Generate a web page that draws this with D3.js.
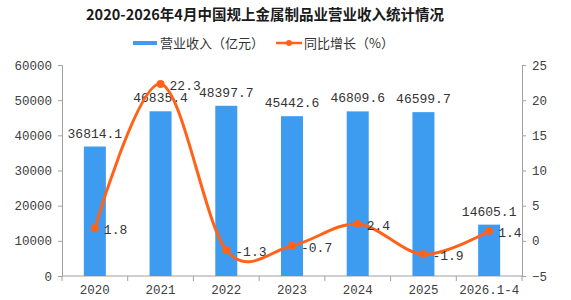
<!DOCTYPE html>
<html><head><meta charset="utf-8">
<script src="https://cdn.jsdelivr.net/npm/d3@7"></script>
<style>body{margin:0;background:#fff}svg{display:block}</style>
</head><body>
<svg id="c" width="571" height="300"></svg>
<script>
const categories = ["2020","2021","2022","2023","2024","2025","2026.1-4"];
const revenue = [36814.1, 46835.4, 48397.7, 45442.6, 46809.6, 46599.7, 14605.1];
const growth = [1.8, 22.3, -1.3, -0.7, 2.4, -1.9, 1.4];
const leftTicks = [0,10000,20000,30000,40000,50000,60000];
const rightTicks = [-5,0,5,10,15,20,25];
const title = "2020-2026年4月中国规上金属制品业营业收入统计情况";
const legendNames = ["营业收入（亿元）","同比增长（%）"];

const svg = d3.select("#c");
const L = 62, R = 522, T = 65, B = 276;
const mono = "'Liberation Mono', monospace";
const cjk = "'Noto Sans CJK SC', sans-serif";
const blue = "#3d9bf0", orange = "#ff6218";

const x = d3.scaleBand().domain(categories).range([L, R]).paddingInner(0).paddingOuter(0);
const yL = d3.scaleLinear().domain([0, 60000]).range([B, T]);
const yR = d3.scaleLinear().domain([-5, 25]).range([B, T]);

// title
svg.append("text").attr("x", 265).attr("y", 20).attr("text-anchor", "middle")
  .attr("font-family", cjk).attr("font-weight", "bold").attr("font-size", 14.5)
  .attr("fill", "#1a1a1a").text(title);

// legend
svg.append("rect").attr("x", 133).attr("y", 41).attr("width", 24).attr("height", 4).attr("fill", blue);
svg.append("text").attr("x", 160).attr("y", 48).attr("font-family", cjk).attr("font-size", 13)
  .attr("fill", "#333").text(legendNames[0]);
svg.append("line").attr("x1", 276).attr("x2", 302).attr("y1", 43).attr("y2", 43)
  .attr("stroke", orange).attr("stroke-width", 2.5);
svg.append("circle").attr("cx", 289).attr("cy", 43).attr("r", 3).attr("fill", orange);
svg.append("text").attr("x", 304).attr("y", 48).attr("font-family", cjk).attr("font-size", 13)
  .attr("fill", "#333").text(legendNames[1]);

// axes
const axL = d3.axisLeft(yL).tickValues(leftTicks).tickSize(4).tickPadding(6).tickFormat(d3.format("d"));
const axR = d3.axisRight(yR).tickValues(rightTicks).tickSize(4).tickPadding(6);
const axB = d3.axisBottom(x).tickSize(0).tickPadding(9);

function style(g) {
  g.selectAll("path,line").attr("stroke", "#a0a0a0");
  g.selectAll("text").attr("font-family", mono).attr("font-size", 12.5).attr("fill", "#404040");
}
svg.append("g").attr("transform", `translate(${L},0)`).call(axL).call(style);
svg.append("g").attr("transform", `translate(${R},0)`).call(axR).call(style);
const gb = svg.append("g").attr("transform", `translate(0,${B})`).call(axB).call(style);
gb.select("path").attr("d", `M${L},0H${R}`);
// boundary ticks
const bounds = categories.map(c => x(c)).concat([R]);
gb.selectAll(".btick").data(bounds).enter().append("line")
  .attr("x1", d => d).attr("x2", d => d).attr("y1", 0).attr("y2", 5).attr("stroke", "#a0a0a0");

// bars
const bw = 22;
svg.append("g").selectAll("rect").data(revenue).enter().append("rect")
  .attr("x", (d, i) => x(categories[i]) + x.bandwidth() / 2 - bw / 2)
  .attr("y", d => yL(d)).attr("width", bw).attr("height", d => B - yL(d))
  .attr("fill", blue);

// bar labels
svg.append("g").selectAll("text").data(revenue).enter().append("text")
  .attr("x", (d, i) => x(categories[i]) + x.bandwidth() / 2)
  .attr("y", d => yL(d) - 9)
  .attr("text-anchor", "middle").attr("font-family", mono).attr("font-size", 13)
  .attr("fill", "#333").text(d => d3.format(".1f")(d));

// line
const pts = growth.map((g, i) => [x(categories[i]) + x.bandwidth() / 2, yR(g)]);
svg.append("path").attr("d", d3.line().curve(d3.curveCardinal.tension(0))(pts))
  .attr("fill", "none").attr("stroke", orange).attr("stroke-width", 3);
svg.append("g").selectAll("circle").data(pts).enter().append("circle")
  .attr("cx", d => d[0]).attr("cy", d => d[1]).attr("r", 4).attr("fill", orange);
svg.append("g").selectAll("text").data(growth).enter().append("text")
  .attr("x", (d, i) => pts[i][0] + 9)
  .attr("y", (d, i) => pts[i][1] + 6)
  .attr("font-family", mono).attr("font-size", 13).attr("fill", "#333")
  .text(d => d3.format(".1f")(d).replace("−", "-"));
</script>
</body></html>
